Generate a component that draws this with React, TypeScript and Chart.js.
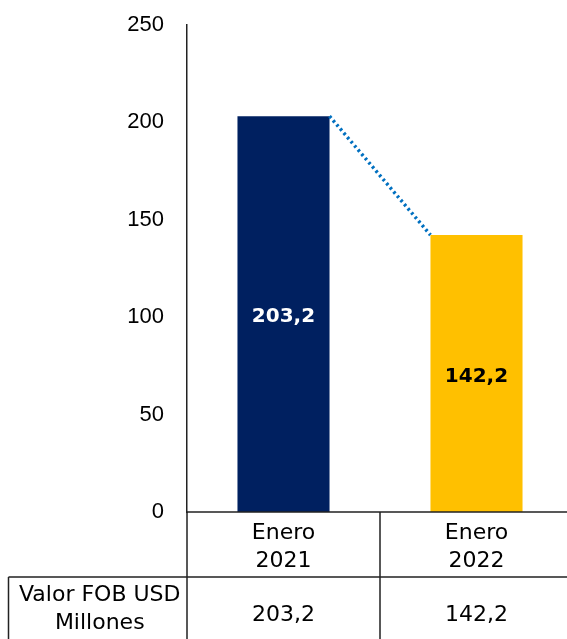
import React, { useEffect, useRef } from "react";
import { Chart, registerables } from "chart.js";

Chart.register(...registerables);

const categories = ["Enero 2021", "Enero 2022"];
const values = [203.2, 142.2];
const barColors = ["#002060", "#FFC000"];
const labelColors = ["#FFFFFF", "#000000"];
const rowLabel = ["Valor FOB USD", "Millones"];
const yTicks = [0, 50, 100, 150, 200, 250];

const fmt = (v: number) => v.toFixed(1).replace(".", ",");

const TABLE_FONT = '22px "DejaVu Sans", sans-serif';

const overlayPlugin = {
  id: "overlay",
  afterDatasetsDraw(chart: any) {
    const ctx = chart.ctx;
    const meta = chart.getDatasetMeta(0);
    const b0 = meta.data[0];
    const b1 = meta.data[1];
    // dotted connector
    ctx.save();
    ctx.strokeStyle = "#0070C0";
    ctx.lineWidth = 3.5;
    ctx.setLineDash([2.5, 3]);
    ctx.beginPath();
    ctx.moveTo(b0.x + b0.width / 2, b0.y);
    ctx.lineTo(b1.x - b1.width / 2, b1.y);
    ctx.stroke();
    ctx.restore();
    // data labels
    ctx.save();
    ctx.font = 'bold 20px "DejaVu Sans", sans-serif';
    ctx.textAlign = "center";
    ctx.textBaseline = "middle";
    meta.data.forEach((bar: any, i: number) => {
      ctx.fillStyle = labelColors[i];
      const mid = (bar.y + bar.base) / 2;
      ctx.fillText(fmt(values[i]), bar.x, mid + 3);
    });
    ctx.restore();
  },
  afterDraw(chart: any) {
    const ctx = chart.ctx;
    const area = chart.chartArea;
    const xs = chart.scales.x;
    const W = chart.width;
    const H = chart.height;
    const c0 = xs.getPixelForValue(0);
    const c1 = xs.getPixelForValue(1);
    const mid = (c0 + c1) / 2;
    const top = area.bottom;
    const rowY = top + 65;
    const leftX = 8.5;
    ctx.save();
    ctx.strokeStyle = "#222222";
    ctx.lineWidth = 1.5;
    ctx.beginPath();
    ctx.moveTo(area.left, top);
    ctx.lineTo(W, top);
    ctx.moveTo(leftX, rowY);
    ctx.lineTo(W, rowY);
    ctx.moveTo(area.left, top);
    ctx.lineTo(area.left, H);
    ctx.moveTo(mid, top);
    ctx.lineTo(mid, H);
    ctx.moveTo(leftX, rowY);
    ctx.lineTo(leftX, H);
    ctx.stroke();
    ctx.fillStyle = "#000000";
    ctx.font = TABLE_FONT;
    ctx.textAlign = "center";
    ctx.textBaseline = "middle";
    categories.forEach((c, i) => {
      const x = xs.getPixelForValue(i);
      const parts = c.split(" ");
      ctx.fillText(parts[0], x, top + 21);
      ctx.fillText(parts[1], x, top + 49.5);
      ctx.fillText(fmt(values[i]), x, rowY + 38);
    });
    ctx.fillText(rowLabel[0], (leftX + area.left) / 2 + 2, rowY + 18);
    ctx.fillText(rowLabel[1], (leftX + area.left) / 2 + 2, rowY + 46.5);
    ctx.restore();
  },
};

export default function App() {
  const ref = useRef<HTMLCanvasElement | null>(null);
  useEffect(() => {
    document.body.style.margin = "0";
    const chart = new Chart(ref.current as HTMLCanvasElement, {
      type: "bar",
      data: {
        labels: categories,
        datasets: [
          {
            data: values,
            backgroundColor: barColors,
            borderWidth: 0,
            categoryPercentage: 1,
            barPercentage: 0.477,
          },
        ],
      },
      options: {
        animation: false,
        responsive: false,
        maintainAspectRatio: false,
        layout: { padding: { top: 25, right: 0, bottom: 127, left: 0 } },
        plugins: { legend: { display: false }, tooltip: { enabled: false } },
        scales: {
          x: {
            display: false,
            offset: true,
            grid: { display: false },
          },
          y: {
            min: 0,
            max: 250,
            afterFit(scale: any) {
              scale.width = 187;
              scale.paddingTop = 0;
              scale.paddingBottom = 0;
            },
            afterBuildTicks(scale: any) {
              scale.ticks = yTicks.map((v) => ({ value: v }));
            },
            grid: { display: false, drawTicks: false },
            border: { display: true, color: "#222222", width: 1.5 },
            ticks: {
              color: "#000000",
              padding: 23,
              font: { family: '"Liberation Sans", Arial, sans-serif', size: 22 },
            },
          },
        },
      },
      plugins: [overlayPlugin],
    });
    return () => chart.destroy();
  }, []);
  return (
    <div style={{ width: 567, height: 639, overflow: "hidden", position: "relative" }}>
      <canvas ref={ref} width={573} height={639} style={{ display: "block" }} />
    </div>
  );
}
